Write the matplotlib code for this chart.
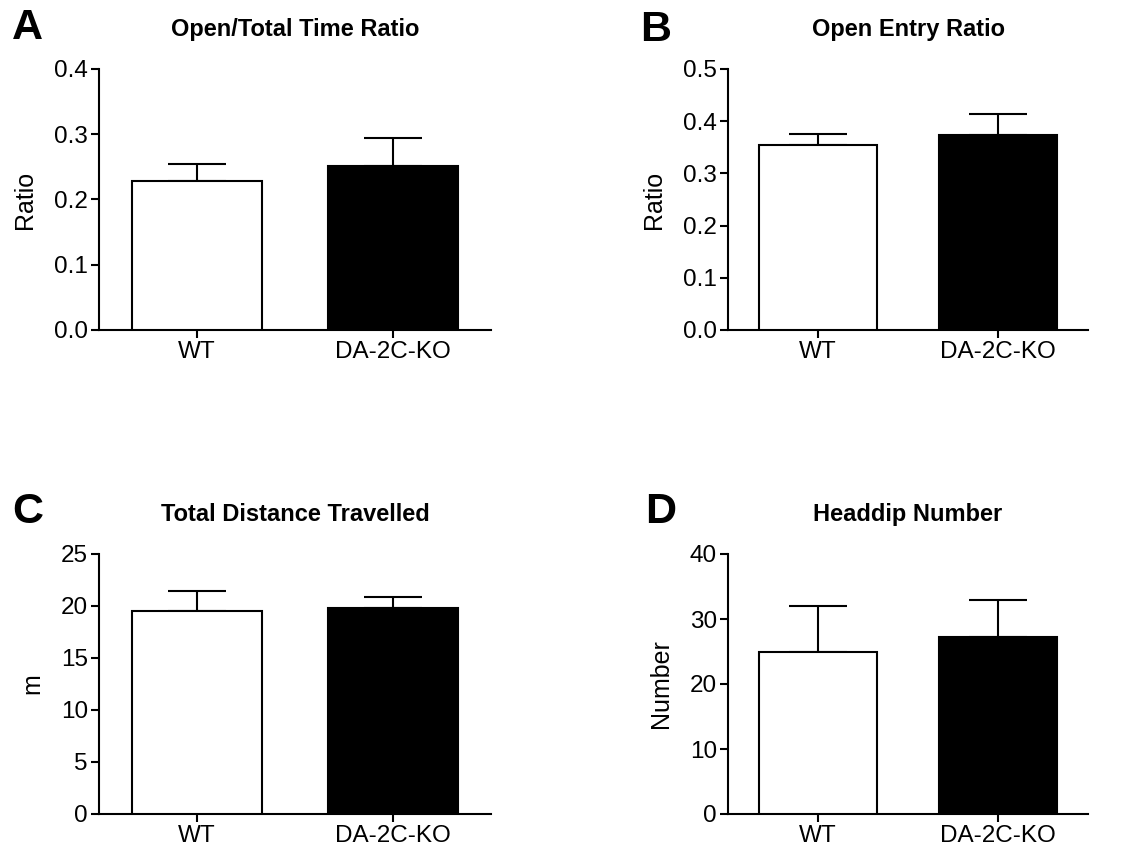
import numpy as np
import matplotlib.pyplot as plt

plt.rcParams['font.family'] = ['Liberation Sans', 'DejaVu Sans']

groups = ['WT', 'DA-2C-KO']
bar_colors = ['white', 'black']

titles = ['Open/Total Time Ratio', 'Open Entry Ratio', 'Total Distance Travelled', 'Headdip Number']
letters = ['A', 'B', 'C', 'D']
ylabels = ['Ratio', 'Ratio', 'm', 'Number']

time_ratio = [0.228, 0.252]
time_ratio_err = [0.027, 0.043]
entry_ratio = [0.355, 0.373]
entry_ratio_err = [0.021, 0.040]
distance = [19.5, 19.8]
distance_err = [1.9, 1.1]
headdip = [24.9, 27.3]
headdip_err = [7.1, 5.7]

means = [time_ratio, entry_ratio, distance, headdip]
errs = [time_ratio_err, entry_ratio_err, distance_err, headdip_err]
yticks = [[0.0, 0.1, 0.2, 0.3, 0.4],
          [0.0, 0.1, 0.2, 0.3, 0.4, 0.5],
          [0, 5, 10, 15, 20, 25],
          [0, 10, 20, 30, 40]]
ytick_fmt = ['{:.1f}', '{:.1f}', '{:d}', '{:d}']

fig = plt.figure(figsize=(11.28, 8.5), dpi=100)
W, H = 1128, 850
# axes boxes in pixel coords: left, right, top, bottom
boxes = [(99, 491, 69, 330), (728, 1088, 69, 330),
         (99, 491, 554, 814), (728, 1088, 554, 814)]
letter_pos = [(12, 28), (640, 30), (12, 512), (645, 512)]

lw = 1.5
for i in range(4):
    l, r, t, b = boxes[i]
    ax = fig.add_axes([l / W, 1 - b / H, (r - l) / W, (b - t) / H])
    x = np.arange(len(groups))
    ax.bar(x, means[i], width=0.66, color=bar_colors, edgecolor='black', linewidth=lw, zorder=3)
    ax.errorbar(x, means[i], yerr=[np.zeros(2), errs[i]], fmt='none', ecolor='black',
                elinewidth=lw, capsize=21, capthick=lw, zorder=2)
    ax.set_xlim(-0.5, 1.5)
    ax.set_ylim(yticks[i][0], yticks[i][-1])
    ax.set_yticks(yticks[i])
    ax.set_yticklabels([ytick_fmt[i].format(v) for v in yticks[i]])
    ax.set_xticks(x)
    ax.set_xticklabels(groups)
    for s in ['top', 'right']:
        ax.spines[s].set_visible(False)
    for s in ['left', 'bottom']:
        ax.spines[s].set_linewidth(lw)
    ax.spines['left'].set_bounds(yticks[i][0], yticks[i][-1])
    ax.tick_params(axis='both', direction='out', length=6, width=lw, labelsize=17.5, pad=2)
    ax.set_ylabel(ylabels[i], fontsize=18, labelpad=12)
    ax.set_title(titles[i], fontsize=17, fontweight='bold', pad=24)
    lx, ly = letter_pos[i]
    fig.text(lx / W, 1 - ly / H, letters[i], fontsize=31, fontweight='bold',
             ha='left', va='center')

fig.savefig('out.png', dpi=100)
